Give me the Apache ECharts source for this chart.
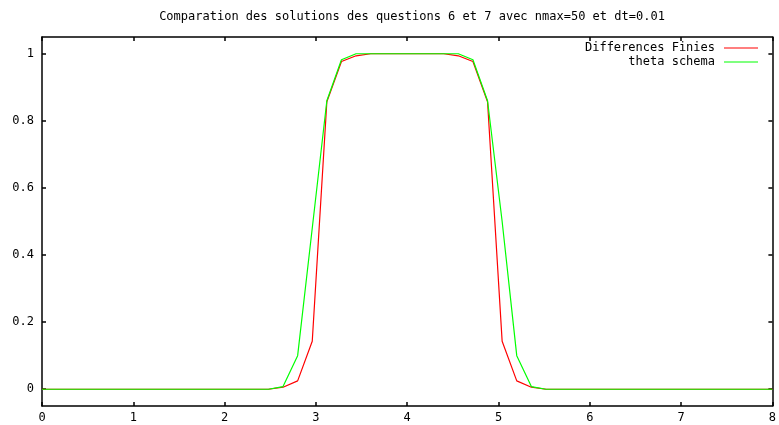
<!DOCTYPE html>
<html>
<head>
<meta charset="utf-8">
<script src="https://cdn.jsdelivr.net/npm/echarts@6/dist/echarts.min.js"></script>
<style>html,body{margin:0;padding:0;background:#fff}#c{width:779px;height:425px}</style>
</head>
<body>
<div id="c"></div>
<script>
var titleText = 'Comparation des solutions des questions 6 et 7 avec nmax=50 et dt=0.01';
var seriesNames = ['Differences Finies', 'theta schema'];
var xValues = [0, 2.48, 2.64, 2.80, 2.96, 3.12, 3.28, 3.44, 3.60, 3.76, 3.92, 4.08, 4.24, 4.40, 4.56, 4.72, 4.88, 5.04, 5.20, 5.36, 5.52, 8];
var diffFinies = [0, 0, 0.006, 0.025, 0.143, 0.857, 0.977, 0.994, 1, 1, 1, 1, 1, 1, 0.994, 0.977, 0.857, 0.143, 0.025, 0.006, 0, 0];
var thetaSchema = [0, 0, 0.008, 0.10, 0.48, 0.86, 0.982, 1, 1, 1, 1, 1, 1, 1, 1, 0.982, 0.86, 0.50, 0.10, 0.008, 0, 0];
var yTicks = [0, 0.2, 0.4, 0.6, 0.8, 1];

function pairs(xs, ys) { return xs.map(function (x, i) { return [x, ys[i]]; }); }

var font = 'DejaVu Sans Mono';
var axisLine = { show: true, onZero: false, lineStyle: { color: '#000', width: 1.5 } };
var tick = { show: true, inside: true, length: 4, lineStyle: { color: '#000', width: 1.5 } };

var chart = echarts.init(document.getElementById('c'), null, { renderer: 'canvas' });
chart.setOption({
  animation: false,
  backgroundColor: '#fff',
  title: {
    text: titleText, left: 407, top: 6, textAlign: 'center',
    textStyle: { fontFamily: font, fontSize: 12, fontWeight: 'normal', color: '#000' }
  },
  legend: {
    orient: 'vertical', right: 21, top: 41, align: 'right', padding: 0,
    icon: 'rect', itemWidth: 34, itemHeight: 1, itemGap: 0,
    textStyle: { fontFamily: font, fontSize: 12, color: '#000', lineHeight: 14, padding: [0, 4, 0, 0] },
    data: seriesNames
  },
  grid: { left: 42, right: 6, top: 37, bottom: 19, containLabel: false },
  xAxis: [
    { type: 'value', min: 0, max: 8, interval: 1, position: 'bottom',
      axisLine: axisLine, axisTick: tick, splitLine: { show: false },
      axisLabel: { margin: 6, fontFamily: font, fontSize: 12, color: '#000' } },
    { type: 'value', min: 0, max: 8, interval: 1, position: 'top',
      axisLine: axisLine, axisTick: tick, splitLine: { show: false }, axisLabel: { show: false } }
  ],
  yAxis: [
    { type: 'value', min: -0.05, max: 1.05, position: 'left',
      axisLine: axisLine,
      axisTick: { show: true, inside: true, length: 4, lineStyle: { color: '#000', width: 1.5 }, customValues: yTicks },
      splitLine: { show: false },
      axisLabel: { margin: 8, fontFamily: font, fontSize: 12, color: '#000', customValues: yTicks } },
    { type: 'value', min: -0.05, max: 1.05, position: 'right',
      axisLine: axisLine,
      axisTick: { show: true, inside: true, length: 4, lineStyle: { color: '#000', width: 1.5 }, customValues: yTicks },
      splitLine: { show: false }, axisLabel: { show: false } }
  ],
  series: [
    { name: seriesNames[0], type: 'line', data: pairs(xValues, diffFinies), showSymbol: false, symbol: 'none',
      color: '#ff0000', lineStyle: { color: '#ff0000', width: 1.2 }, z: 2 },
    { name: seriesNames[1], type: 'line', data: pairs(xValues, thetaSchema), showSymbol: false, symbol: 'none',
      color: '#00ff00', lineStyle: { color: '#00ff00', width: 1.2 }, z: 3 }
  ]
});
</script>
</body>
</html>
